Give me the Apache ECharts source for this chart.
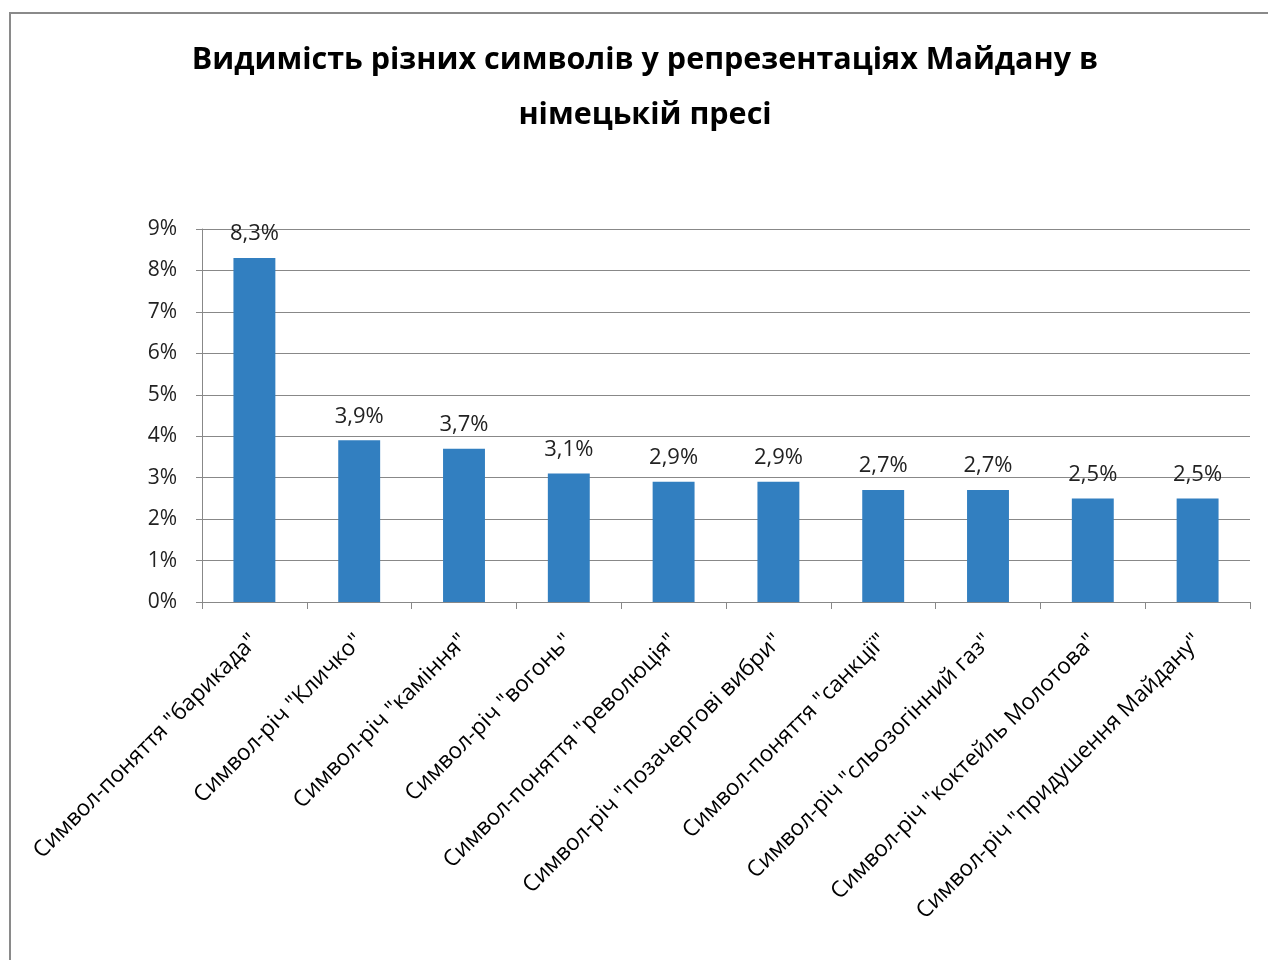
<!DOCTYPE html>
<html><head><meta charset="utf-8">
<script src="https://cdn.jsdelivr.net/npm/echarts@6/dist/echarts.min.js"></script>
<style>html,body{margin:0;padding:0;background:#fff}#c{width:1268px;height:960px}</style>
</head><body><div id="c"></div>
<script>
const titleLines = ['Видимість різних символів у репрезентаціях Майдану в', 'німецькій пресі'];
const categories = [
  'Символ-поняття "барикада"',
  'Символ-річ "Кличко"',
  'Символ-річ "каміння"',
  'Символ-річ "вогонь"',
  'Символ-поняття "революція"',
  'Символ-річ "позачергові вибри"',
  'Символ-поняття "санкції"',
  'Символ-річ "сльозогінний газ"',
  'Символ-річ "коктейль Молотова"',
  'Символ-річ "придушення Майдану"'
];
const values = [8.3, 3.9, 3.7, 3.1, 2.9, 2.9, 2.7, 2.7, 2.5, 2.5];
const yMin = 0, yMax = 9, yStep = 1;

const FONT = 'Open Sans';
const chart = echarts.init(document.getElementById('c'));
chart.setOption({
  backgroundColor: '#fff',
  animation: false,
  title: {
    text: titleLines.join('\n'),
    left: 640,
    textAlign: 'center',
    top: 28,
    textStyle: { fontFamily: FONT, fontWeight: 'bold', fontSize: 30.5, lineHeight: 55, color: '#000' }
  },
  graphic: [{
    type: 'rect', shape: { x: 10, y: 13, width: 1400, height: 1100 },
    style: { fill: 'none', stroke: '#8a8a8a', lineWidth: 2 }, silent: true
  }],
  grid: { left: 202, right: 18, top: 229, bottom: 358, containLabel: false },
  xAxis: {
    type: 'category',
    data: categories,
    boundaryGap: true,
    axisLine: { show: true, lineStyle: { color: '#888', width: 1 } },
    axisTick: { show: true, length: 7, alignWithLabel: false, lineStyle: { color: '#888' } },
    axisLabel: { interval: 0, rotate: 45, margin: 36, fontFamily: FONT, fontSize: 22.5, color: '#000' }
  },
  yAxis: {
    type: 'value', min: yMin, max: yMax, interval: yStep,
    axisLine: { show: true, lineStyle: { color: '#888', width: 1 } },
    axisTick: { show: true, length: 6, inside: false, lineStyle: { color: '#888' } },
    splitLine: { show: true, lineStyle: { color: '#888', width: 1 } },
    axisLabel: { formatter: '{value}%', margin: 25, fontFamily: FONT, fontSize: 21, color: '#222' }
  },
  series: [{
    type: 'bar',
    data: values,
    barWidth: '40%',
    itemStyle: { color: '#327FC0' },
    label: {
      show: true, position: 'top', distance: 13,
      fontFamily: FONT, fontSize: 22, color: '#222',
      formatter: p => String(p.value).replace('.', ',') + '%'
    }
  }]
});
</script></body></html>
